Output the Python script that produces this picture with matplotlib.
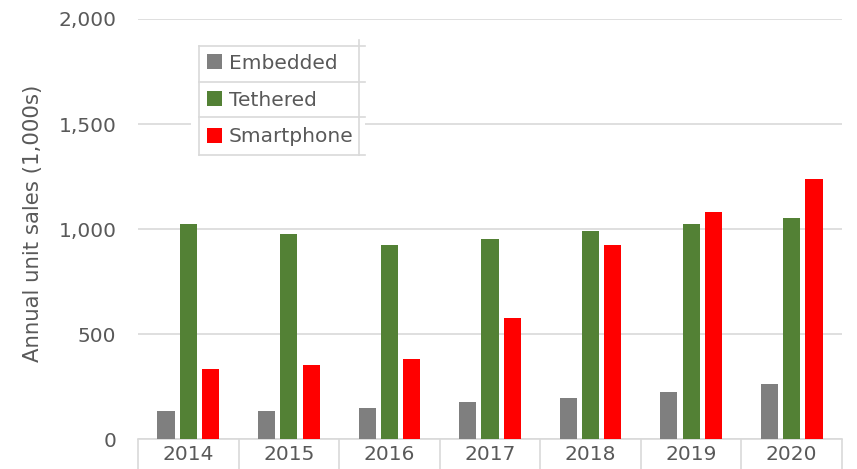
import matplotlib
matplotlib.use("Agg")
import matplotlib.pyplot as plt
from matplotlib.lines import Line2D
from matplotlib.patches import Rectangle, Patch
import numpy as np

years = ["2014", "2015", "2016", "2017", "2018", "2019", "2020"]
embedded = [133, 133, 146, 175, 197, 222, 262]
tethered = [1024, 976, 925, 952, 990, 1024, 1054]
smartphone = [335, 352, 381, 576, 922, 1081, 1238]
series_names = ["Embedded", "Tethered", "Smartphone"]
colors = ["#7f7f7f", "#538135", "#ff0000"]

W, H = 857, 469
plt.rcParams['font.family'] = ['DejaVu Sans']
fig = plt.figure(figsize=(W / 100, H / 100), dpi=100)
ax = fig.add_axes([138 / W, 1 - 439 / H, (842 - 138) / W, (439 - 19) / H])

def fx(x):
    return x / W

def fy(y):
    return 1 - y / H

text_col = "#595959"
grid_col = "#d9d9d9"
fs = 14.5

x = np.arange(len(years))
bw = 0.17
step = 0.222
for i, (vals, c) in enumerate(zip([embedded, tethered, smartphone], colors)):
    ax.bar(x + (i - 1) * step, vals, width=bw, color=c, zorder=3)

ax.set_xlim(-0.5, len(years) - 0.5)
ax.set_ylim(0, 2000)
ax.set_yticks([0, 500, 1000, 1500, 2000])
ax.set_yticklabels(["0", "500", "1,000", "1,500", "2,000"])
ax.yaxis.grid(True, color=grid_col, linewidth=1.2, zorder=0)
ax.set_axisbelow(True)
for s in ["top", "right", "left"]:
    ax.spines[s].set_visible(False)
ax.spines["bottom"].set_color(grid_col)
ax.spines["bottom"].set_linewidth(1.2)
ax.tick_params(axis="y", length=0, pad=15.5, labelsize=fs, labelcolor=text_col)
ax.set_xticks(x)
ax.set_xticklabels(years)
ax.tick_params(axis="x", which="major", length=0, pad=4.5, labelsize=fs, labelcolor=text_col)
ax.set_xticks(np.arange(-0.5, len(years)), minor=True)
ax.tick_params(axis="x", which="minor", length=30, width=1.2, color=grid_col)

ax.set_ylabel("Annual unit sales (1,000s)", fontsize=15.3, color=text_col)
ax.yaxis.set_label_coords((33 - 138) / (842 - 138), (439 - 223) / 420)
ax.yaxis.label.set_verticalalignment("center")

# white background behind legend (interrupts gridline)
fig.add_artist(Rectangle((fx(191), fy(160)), fx(365) - fx(191), fy(40) - fy(160),
                         transform=fig.transFigure, facecolor="white", edgecolor="none", zorder=4))

handles = [Patch(facecolor=c, edgecolor="none") for c in colors]
leg = fig.legend(handles, series_names, loc="center left",
                 bbox_to_anchor=(fx(207), fy(100)), bbox_transform=fig.transFigure,
                 frameon=False, fontsize=fs, labelcolor=text_col,
                 handlelength=0.74, handleheight=0.74, handletextpad=0.33,
                 labelspacing=0.88, borderaxespad=0, borderpad=0)
leg.set_zorder(6)

# table-like legend lines
lc = "#d9d9d9"
for yy in [46, 82, 117, 155]:
    fig.add_artist(Line2D([fx(199), fx(365)], [fy(yy), fy(yy)], transform=fig.transFigure,
                          color=lc, linewidth=1.2, zorder=5))
fig.add_artist(Line2D([fx(199), fx(199)], [fy(46), fy(155)], transform=fig.transFigure,
                      color=lc, linewidth=1.2, zorder=5))
fig.add_artist(Line2D([fx(359), fx(359)], [fy(40), fy(155)], transform=fig.transFigure,
                      color=lc, linewidth=1.2, zorder=5))

fig.savefig("out.png", dpi=100)
